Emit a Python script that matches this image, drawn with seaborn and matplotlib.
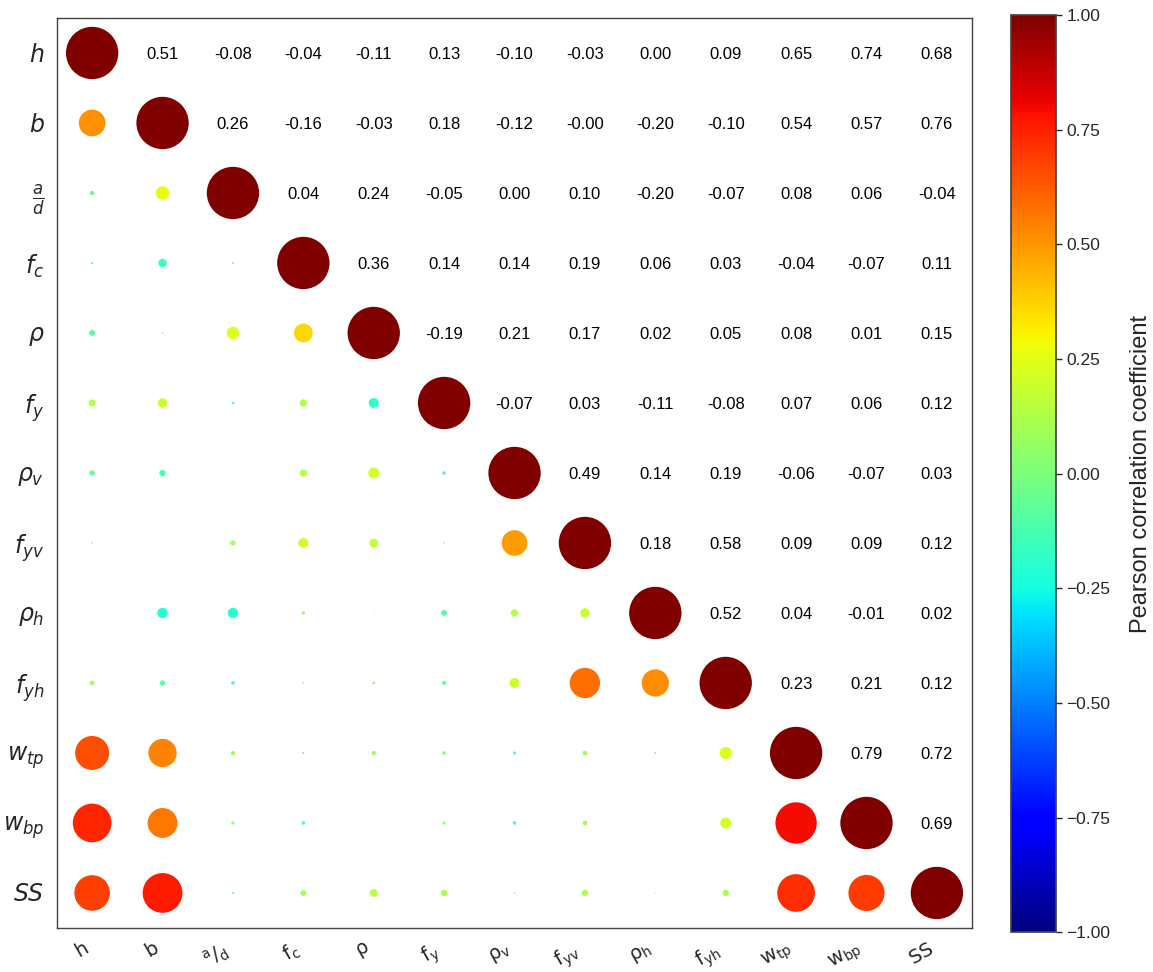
import numpy as np
import pandas as pd
import matplotlib
matplotlib.use("Agg")
import matplotlib.pyplot as plt
import seaborn as sns

# ---- data ----
ylabels = [r'$h$', r'$b$', r'$\frac{a}{d}$', r'$f_c$', r'$\rho$', r'$f_y$', r'$\rho_v$',
           r'$f_{yv}$', r'$\rho_h$', r'$f_{yh}$', r'$w_{tp}$', r'$w_{bp}$', r'$SS$']
xlabels = [r'$\mathregular{h}$', r'$\mathregular{b}$', r'$\mathregular{^a/_d}$',
           r'$\mathregular{f_c}$', r'$\mathregular{\rho}$', r'$\mathregular{f_y}$',
           r'$\mathregular{\rho_v}$', r'$\mathregular{f_{yv}}$', r'$\mathregular{\rho_h}$',
           r'$\mathregular{f_{yh}}$', r'$\mathregular{w_{tp}}$', r'$\mathregular{w_{bp}}$',
           r'$\mathregular{SS}$']

# upper-triangle correlation rows (values right of the diagonal)
r_h   = [0.51, -0.08, -0.04, -0.11, 0.13, -0.10, -0.03, 0.00, 0.09, 0.65, 0.74, 0.68]
r_b   = [0.26, -0.16, -0.03, 0.18, -0.12, -0.001, -0.20, -0.10, 0.54, 0.57, 0.76]
r_ad  = [0.04, 0.24, -0.05, 0.00, 0.10, -0.20, -0.07, 0.08, 0.06, -0.04]
r_fc  = [0.36, 0.14, 0.14, 0.19, 0.06, 0.03, -0.04, -0.07, 0.11]
r_rho = [-0.19, 0.21, 0.17, 0.02, 0.05, 0.08, 0.01, 0.15]
r_fy  = [-0.07, 0.03, -0.11, -0.08, 0.07, 0.06, 0.12]
r_rv  = [0.49, 0.14, 0.19, -0.06, -0.07, 0.03]
r_fyv = [0.18, 0.58, 0.09, 0.09, 0.12]
r_rh  = [0.52, 0.04, -0.01, 0.02]
r_fyh = [0.23, 0.21, 0.12]
r_wtp = [0.79, 0.72]
r_wbp = [0.69]
upper_rows = [r_h, r_b, r_ad, r_fc, r_rho, r_fy, r_rv, r_fyv, r_rh, r_fyh, r_wtp, r_wbp, []]

n = len(ylabels)
corr = np.eye(n)
for i, row in enumerate(upper_rows):
    for k, v in enumerate(row):
        j = i + 1 + k
        corr[i, j] = v
        corr[j, i] = v

# ---- plotting ----
sns.set_theme(style="white")
plt.rcParams['font.family'] = ['Liberation Sans', 'DejaVu Sans']
plt.rcParams['mathtext.fontset'] = 'dejavusans'

jet = matplotlib.colormaps['jet']

fig = plt.figure(figsize=(11.53, 9.72), dpi=100)
ax = fig.add_axes([0.0494, 0.0453, 0.7937, 0.9362])
cax = fig.add_axes([0.877, 0.041, 0.039, 0.9436])

recs = []
for i in range(n):
    for j in range(n):
        if j <= i:
            recs.append(dict(x=j, y=i, r=corr[i, j], r2=corr[i, j] ** 2))
df = pd.DataFrame(recs)

sns.scatterplot(data=df, x='x', y='y', hue='r', palette=jet, hue_norm=(-1, 1),
                size='r2', sizes=(0, 1420), size_norm=(0, 1), legend=False,
                linewidth=0, ax=ax)

for i in range(n):
    for j in range(i + 1, n):
        ax.text(j, i + 0.02, f"{corr[i, j]:.2f}", ha='center', va='center',
                fontsize=12, color='black')

ax.set_xlim(-0.5, n - 0.5)
ax.set_ylim(n - 0.5, -0.5)
ax.set_xticks(range(n))
ax.set_yticks(range(n))
ax.set_xticklabels(xlabels, rotation=30, fontsize=14, ha='right',
                   family=['DejaVu Sans'])
ax.set_yticklabels(ylabels, fontsize=17)
ax.tick_params(axis='x', pad=2)
ax.tick_params(axis='y', pad=3)
ax.set_xlabel('')
ax.set_ylabel('')
for s in ax.spines.values():
    s.set_color('#444444')
    s.set_linewidth(1.0)

sm = plt.cm.ScalarMappable(cmap=jet, norm=plt.Normalize(-1, 1))
cb = fig.colorbar(sm, cax=cax)
cb.set_ticks(np.arange(-1, 1.01, 0.25))
cb.ax.tick_params(labelsize=12.5, length=4, width=1)
cb.set_label('Pearson correlation coefficient', fontsize=17, labelpad=14)
cb.outline.set_edgecolor('#444444')

fig.savefig('out.png', dpi=100)
